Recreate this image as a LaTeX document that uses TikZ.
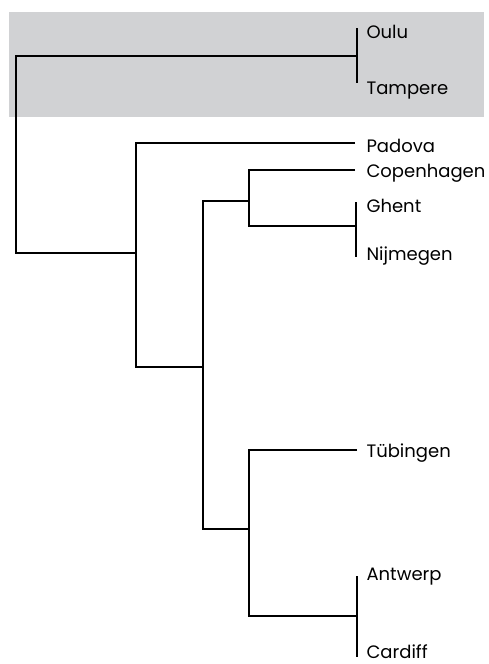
\documentclass[tikz,border=0pt]{standalone}
\usepackage{fontspec}
\setmainfont{Poppins}
\usepackage{xcolor}
\usepackage{tikz}
\definecolor{band}{HTML}{D1D2D4}

\begin{document}
\begin{tikzpicture}[x={(1pt,0)}, y={(0,-1pt)}, line width=1.1pt]
            \tikzstyle{leaf} = [anchor = base west, inner sep = 0, font = \fontsize{18}{20}\selectfont];
            \useasboundingbox (0,0) rectangle (488,664);
            \fill[band] (9,12) rectangle (484,117);
            % city labels
            \foreach \n/\l/\y in {oulu/Oulu/38, tampere/Tampere/94, padova/Padova/152,
                copenhagen/Copenhagen/177, ghent/Ghent/212, nijmegen/Nijmegen/260,
                tubingen/Tübingen/457, antwerp/Antwerp/580, cardiff/Cardiff/658}
            {\node[leaf] (\n) at (366,\y) {\l};}
            % branch ends and joins
            \coordinate (ou) at (357,56);
            \coordinate (root) at (16,253);
            \coordinate (n2) at (136,253);
            \coordinate (n3) at (203,367);
            \coordinate (n4) at (249,201);
            \coordinate (n5) at (249,529);
            \coordinate (pd) at (355,143);
            \coordinate (cp) at (355,170);
            \coordinate (gn) at (356,226);
            \coordinate (tb) at (357,450);
            \coordinate (ac) at (357,616);
            \draw (357,28) -- (357,83);
            \draw (356,202) -- (356,257);
            \draw (357,576) -- (357,657);
            \draw (ou) -| (root) -- (n2);
            \draw (pd) -| (n2) |- (n3);
            \draw (n4) -| (n3) |- (n5);
            \draw (cp) -| (n4) |- (gn);
            \draw (tb) -| (n5) |- (ac);
        \end{tikzpicture}
\end{document}
